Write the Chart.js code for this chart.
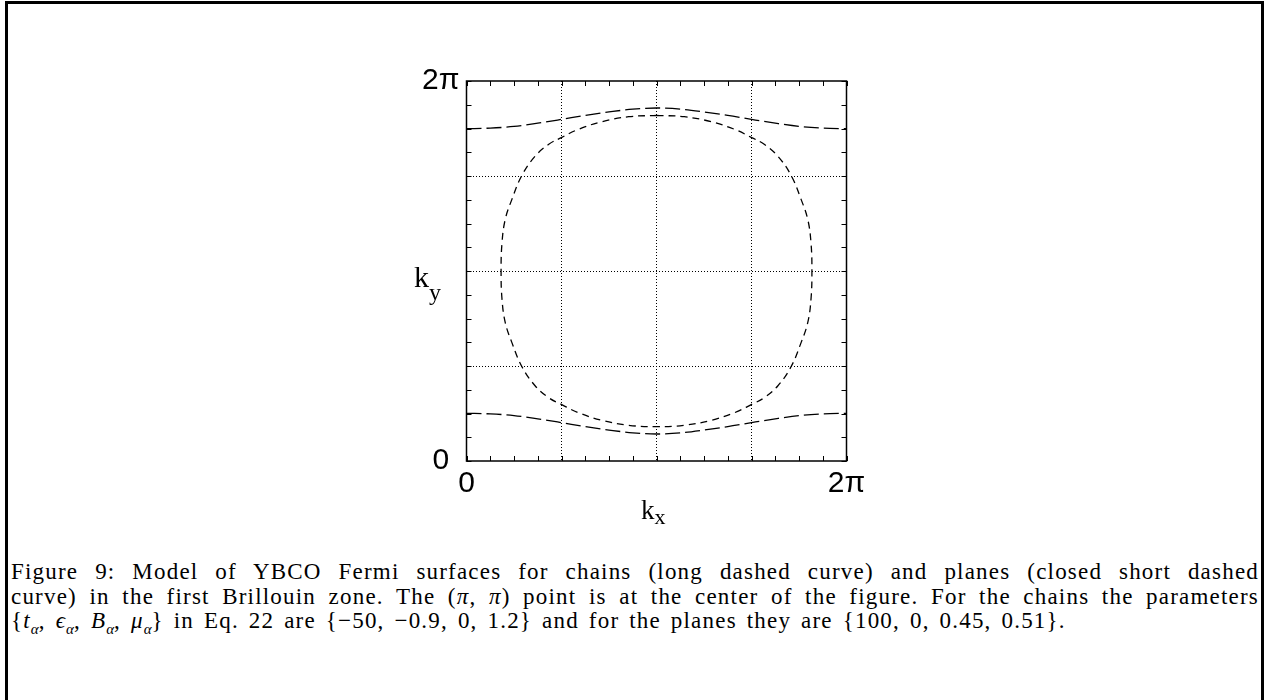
<!DOCTYPE html>
<html>
<head>
<meta charset="utf-8">
<script src="https://cdn.jsdelivr.net/npm/chart.js@4/dist/chart.umd.min.js"></script>
<style>
  html, body { margin: 0; padding: 0; background: #fff; }
  body { width: 1270px; height: 700px; position: relative; overflow: hidden; }
  #c { position: absolute; left: 0; top: 0; }
  .frameL { position: absolute; left: 5px; top: 1px; width: 3px; height: 700px; background: #000; }
  .frameR { position: absolute; left: 1261px; top: 1px; width: 3px; height: 700px; background: #000; }
  .frameT { position: absolute; left: 5px; top: 1px; width: 1259px; height: 3px; background: #000; }
  .title { position: absolute; font-family: 'Liberation Serif', 'DejaVu Serif', serif; color: #000; white-space: nowrap; }
  .title sub { vertical-align: baseline; position: relative; }
  .cap { position: absolute; left: 11px; width: 1248px; font-family: 'Liberation Serif', 'DejaVu Serif', serif; font-size: 23px; line-height: 24px; letter-spacing: 1.2px; word-spacing: 3px; color: #000; white-space: nowrap; }
  .cap sub { font-size: 15px; letter-spacing: 0; }
  .just { text-align: justify; text-align-last: justify; white-space: normal; word-spacing: 0; }
</style>
</head>
<body>
<canvas id="c" width="1270" height="540"></canvas>
<div class="frameL"></div><div class="frameR"></div><div class="frameT"></div>

<div class="title" id="ky" style="left:414px; top:262px; font-size:30px; line-height:30px;">k<sub style="font-size:24px; top:13px;">y</sub></div>
<div class="title" id="kx" style="left:641px; top:497px; font-size:27px; line-height:27px;">k<sub style="font-size:22px; top:5px;">x</sub></div>

<div class="cap just" style="top:560px;">Figure 9: Model of YBCO Fermi surfaces for chains (long dashed curve) and planes (closed short dashed</div>
<div class="cap just" style="top:584.5px;">curve) in the first Brillouin zone. The (<i>π</i>, <i>π</i>) point is at the center of the figure. For the chains the parameters</div>
<div class="cap" style="top:609px;">{<i>t</i><sub><i>α</i></sub>, <i>ϵ</i><sub><i>α</i></sub>, <i>B</i><sub><i>α</i></sub>, <i>μ</i><sub><i>α</i></sub>} in Eq. 22 are {−50, −0.9, 0, 1.2} and for the planes they are {100, 0, 0.45, 0.51}.</div>

<script>
// ---- data (k in units of π; axis spans 0 .. 2π) ----
const axisMin = 0;
const axisMax = 2;
const minorStep = 0.125;
const gridStep = 0.5;
const tickLabelMin = '0';
const tickLabelMax = '2π';

// chains (long dashed) : two open curves
const chainX = [0, 0.125, 0.25, 0.375, 0.5, 0.625, 0.75, 0.875, 1.0, 1.125, 1.25, 1.375, 1.5, 1.625, 1.75, 1.875, 2.0];
const chainUpperY = [1.749, 1.752, 1.761, 1.778, 1.798, 1.819, 1.837, 1.852, 1.858, 1.852, 1.837, 1.819, 1.798, 1.778, 1.761, 1.752, 1.749];
const chainLowerY = [0.251, 0.248, 0.239, 0.222, 0.202, 0.181, 0.163, 0.148, 0.142, 0.148, 0.163, 0.181, 0.202, 0.222, 0.239, 0.248, 0.251];

// planes (closed short dashed) : closed loop around (π, π)
const planeX = [1.000, 1.146, 1.287, 1.410, 1.501, 1.567, 1.638, 1.708, 1.761, 1.796, 1.813, 1.818,
                1.813, 1.796, 1.761, 1.708, 1.638, 1.567, 1.501, 1.410, 1.287, 1.146, 1.000,
                0.854, 0.713, 0.590, 0.499, 0.433, 0.362, 0.292, 0.239, 0.204, 0.187, 0.182,
                0.187, 0.204, 0.239, 0.292, 0.362, 0.433, 0.499, 0.590, 0.713, 0.854, 1.000];
const planeY = [1.819, 1.812, 1.786, 1.746, 1.702, 1.667, 1.605, 1.504, 1.377, 1.272, 1.150, 1.000,
                0.850, 0.728, 0.623, 0.496, 0.395, 0.333, 0.298, 0.254, 0.214, 0.188, 0.181,
                0.188, 0.214, 0.254, 0.298, 0.333, 0.395, 0.496, 0.623, 0.728, 0.850, 1.000,
                1.150, 1.272, 1.377, 1.504, 1.605, 1.667, 1.702, 1.746, 1.786, 1.812, 1.819];

const toPts = (xs, ys) => xs.map((x, i) => ({ x: x, y: ys[i] }));

const tickCb = (v) => (v === axisMin ? tickLabelMin : (v === axisMax ? tickLabelMax : ''));
const gridColor = (ctx) => {
  const v = ctx.tick ? ctx.tick.value : null;
  if (v === null) return 'rgba(0,0,0,0)';
  const r = v / gridStep;
  return (Math.abs(r - Math.round(r)) < 1e-9 && v > axisMin && v < axisMax) ? '#000' : 'rgba(0,0,0,0)';
};

const framePlugin = {
  id: 'frame',
  afterDatasetsDraw(chart) {
    const { ctx, chartArea: a, scales } = chart;
    const xs = scales.x, ys = scales.y;
    ctx.save();
    ctx.strokeStyle = '#000';
    ctx.lineWidth = 1.5;
    ctx.strokeRect(a.left, a.top, a.right - a.left, a.bottom - a.top);
    ctx.lineWidth = 1;
    const tl = 5;
    ctx.beginPath();
    xs.ticks.forEach(t => {
      const p = Math.round(xs.getPixelForValue(t.value)) + 0.5;
      ctx.moveTo(p, a.bottom); ctx.lineTo(p, a.bottom - tl);
      ctx.moveTo(p, a.top); ctx.lineTo(p, a.top + tl);
    });
    ys.ticks.forEach(t => {
      const p = Math.round(ys.getPixelForValue(t.value)) + 0.5;
      ctx.moveTo(a.left, p); ctx.lineTo(a.left + tl, p);
      ctx.moveTo(a.right, p); ctx.lineTo(a.right - tl, p);
    });
    ctx.stroke();
    ctx.restore();
  }
};

const tickFont = { family: "'Liberation Sans', 'DejaVu Sans', sans-serif", size: 30 };

new Chart(document.getElementById('c'), {
  type: 'scatter',
  data: {
    datasets: [
      { label: 'chains (upper)', data: toPts(chainX, chainUpperY), showLine: true, borderColor: '#000', borderWidth: 1.3, borderDash: [15, 5], pointRadius: 0, cubicInterpolationMode: 'monotone', fill: false },
      { label: 'chains (lower)', data: toPts(chainX, chainLowerY), showLine: true, borderColor: '#000', borderWidth: 1.3, borderDash: [15, 5], pointRadius: 0, cubicInterpolationMode: 'monotone', fill: false },
      { label: 'planes', data: toPts(planeX, planeY), showLine: true, borderColor: '#000', borderWidth: 1.3, borderDash: [7, 5], pointRadius: 0, tension: 0.4, fill: false }
    ]
  },
  options: {
    responsive: false,
    animation: false,
    devicePixelRatio: 1,
    layout: { padding: { left: 400, right: 393.5, top: 51, bottom: 0 } },
    plugins: { legend: { display: false }, tooltip: { enabled: false } },
    scales: {
      x: {
        type: 'linear', position: 'bottom', min: axisMin, max: axisMax,
        ticks: { stepSize: minorStep, autoSkip: false, maxRotation: 0, minRotation: 0, padding: 5, color: '#000', font: tickFont, callback: tickCb },
        grid: { color: gridColor, lineWidth: 1, drawTicks: false },
        border: { display: false, dash: [1, 2] },
        afterFit: (s) => { s.height = 79; }
      },
      y: {
        type: 'linear', position: 'left', min: axisMin, max: axisMax,
        ticks: { stepSize: minorStep, autoSkip: false, crossAlign: 'center', padding: 7, color: '#000', font: tickFont, callback: tickCb },
        grid: { color: gridColor, lineWidth: 1, drawTicks: false },
        border: { display: false, dash: [1, 2] },
        afterFit: (s) => { s.width = 66.5; }
      },
      x2: {
        type: 'linear', position: 'top', min: axisMin, max: axisMax,
        ticks: { display: false }, grid: { display: false, drawTicks: false }, border: { display: false },
        afterFit: (s) => { s.height = 30; }
      },
      y2: {
        type: 'linear', position: 'right', min: axisMin, max: axisMax,
        ticks: { display: false }, grid: { display: false, drawTicks: false }, border: { display: false },
        afterFit: (s) => { s.width = 30; }
      }
    }
  },
  plugins: [framePlugin]
});
</script>
</body>
</html>
